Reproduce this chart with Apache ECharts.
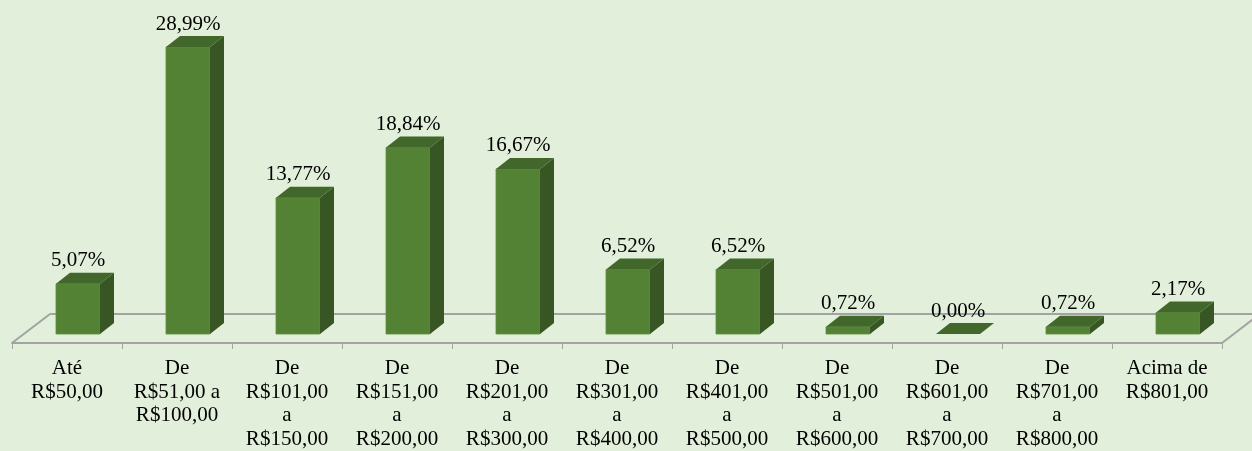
<!DOCTYPE html>
<html>
<head>
<meta charset="utf-8">
<script src="https://cdn.jsdelivr.net/npm/echarts@6/dist/echarts.min.js"></script>
<style>
  html, body { margin: 0; padding: 0; background: #e2efda; }
  #chart { width: 1252px; height: 451px; }
</style>
</head>
<body>
<div id="chart"></div>
<script>
var categories = [
	'Até\nR$50,00',
	'De\nR$51,00 a\nR$100,00',
	'De\nR$101,00\na\nR$150,00',
	'De\nR$151,00\na\nR$200,00',
	'De\nR$201,00\na\nR$300,00',
	'De\nR$301,00\na\nR$400,00',
	'De\nR$401,00\na\nR$500,00',
	'De\nR$501,00\na\nR$600,00',
	'De\nR$601,00\na\nR$700,00',
	'De\nR$701,00\na\nR$800,00',
	'Acima de\nR$801,00'
];
var percents = [5.07, 28.99, 13.77, 18.84, 16.67, 6.52, 6.52, 0.72, 0.00, 0.72, 2.17];

var fontFamily = '"Liberation Serif", "DejaVu Serif", serif';
var font = '21px ' + fontFamily;
var floorColor = '#a3a3a3';

// 3d floor: back edge + slanted sides, drawn per category
function renderFloor(params, api) {
	var i = params.dataIndex;
	var base = api.coord([i, 0]);
	var band = api.size([1, 0])[0];
	var dx = 38, dy = -29;
	var left = base[0] - band / 2, right = base[0] + band / 2;
	var children = [{
		type: 'line',
		shape: { x1: left + dx, y1: base[1] + dy, x2: right + dx, y2: base[1] + dy },
		style: { stroke: floorColor, lineWidth: 2 }
	}];
	if (i === 0) {
		children.push({
			type: 'line',
			shape: { x1: left, y1: base[1], x2: left + dx, y2: base[1] + dy },
			style: { stroke: floorColor, lineWidth: 2 }
		});
	}
	if (i === categories.length - 1) {
		children.push({
			type: 'line',
			shape: { x1: right, y1: base[1], x2: right + dx, y2: base[1] + dy },
			style: { stroke: floorColor, lineWidth: 2 }
		});
	}
	return { type: 'group', children: children };
}

// 3d column: front face, side, top + value label
function renderBar(params, api) {
	var i = params.dataIndex;
	var val = api.value(1);
	var base = api.coord([i, 0]);
	var top = api.coord([i, val]);
	var band = api.size([1, 0])[0];
	var w = band * 0.4;
	var ox = 11, oy = -9;   // position inside floor depth
	var dx = 14, dy = -11;  // column depth
	var x0 = base[0] - w / 2 + ox, x1 = x0 + w;
	var yb = base[1] + oy, yt = top[1] + oy;
	var children = [];
	if (yb - yt > 0.5) {
		children.push({
			type: 'polygon',
			shape: { points: [[x0, yb], [x1, yb], [x1, yt], [x0, yt]] },
			style: { fill: '#548235', stroke: '#5e8f3d', lineWidth: 0.8 }
		});
		children.push({
			type: 'polygon',
			shape: { points: [[x1, yb], [x1 + dx, yb + dy], [x1 + dx, yt + dy], [x1, yt]] },
			style: { fill: '#375623' }
		});
	}
	children.push({
		type: 'polygon',
		shape: { points: [[x0, yt], [x1, yt], [x1 + dx, yt + dy], [x0 + dx, yt + dy]] },
		style: { fill: '#41682a' }
	});
	children.push({
		type: 'text',
		style: {
			text: val.toFixed(2).replace('.', ',') + '%',
			x: (x0 + x1) / 2,
			y: yt + dy - 12,
			align: 'center',
			verticalAlign: 'middle',
			font: font,
			fill: '#000'
		}
	});
	return { type: 'group', children: children };
}

var data = percents.map(function (v, i) { return [i, v]; });

var option = {
	backgroundColor: '#e2efda',
	animation: false,
	grid: { left: 12, right: 30, top: 46, bottom: 108 },
	xAxis: {
		type: 'category',
		data: categories,
		axisLine: { lineStyle: { color: floorColor, width: 2 } },
		axisTick: { show: true, length: 6, lineStyle: { color: floorColor, width: 1 } },
		axisLabel: {
			interval: 0,
			margin: 14,
			color: '#000',
			fontSize: 21,
			lineHeight: 23.5,
			fontFamily: fontFamily
		}
	},
	yAxis: {
		type: 'value',
		min: 0,
		max: 30,
		show: false,
		splitLine: { show: false }
	},
	series: [{
		type: 'custom',
		renderItem: renderFloor,
		data: data,
		z: 1,
		silent: true
	}, {
		type: 'custom',
		renderItem: renderBar,
		data: data,
		z: 2
	}]
};

var chart = echarts.init(document.getElementById('chart'));
chart.setOption(option);
</script>
</body>
</html>
